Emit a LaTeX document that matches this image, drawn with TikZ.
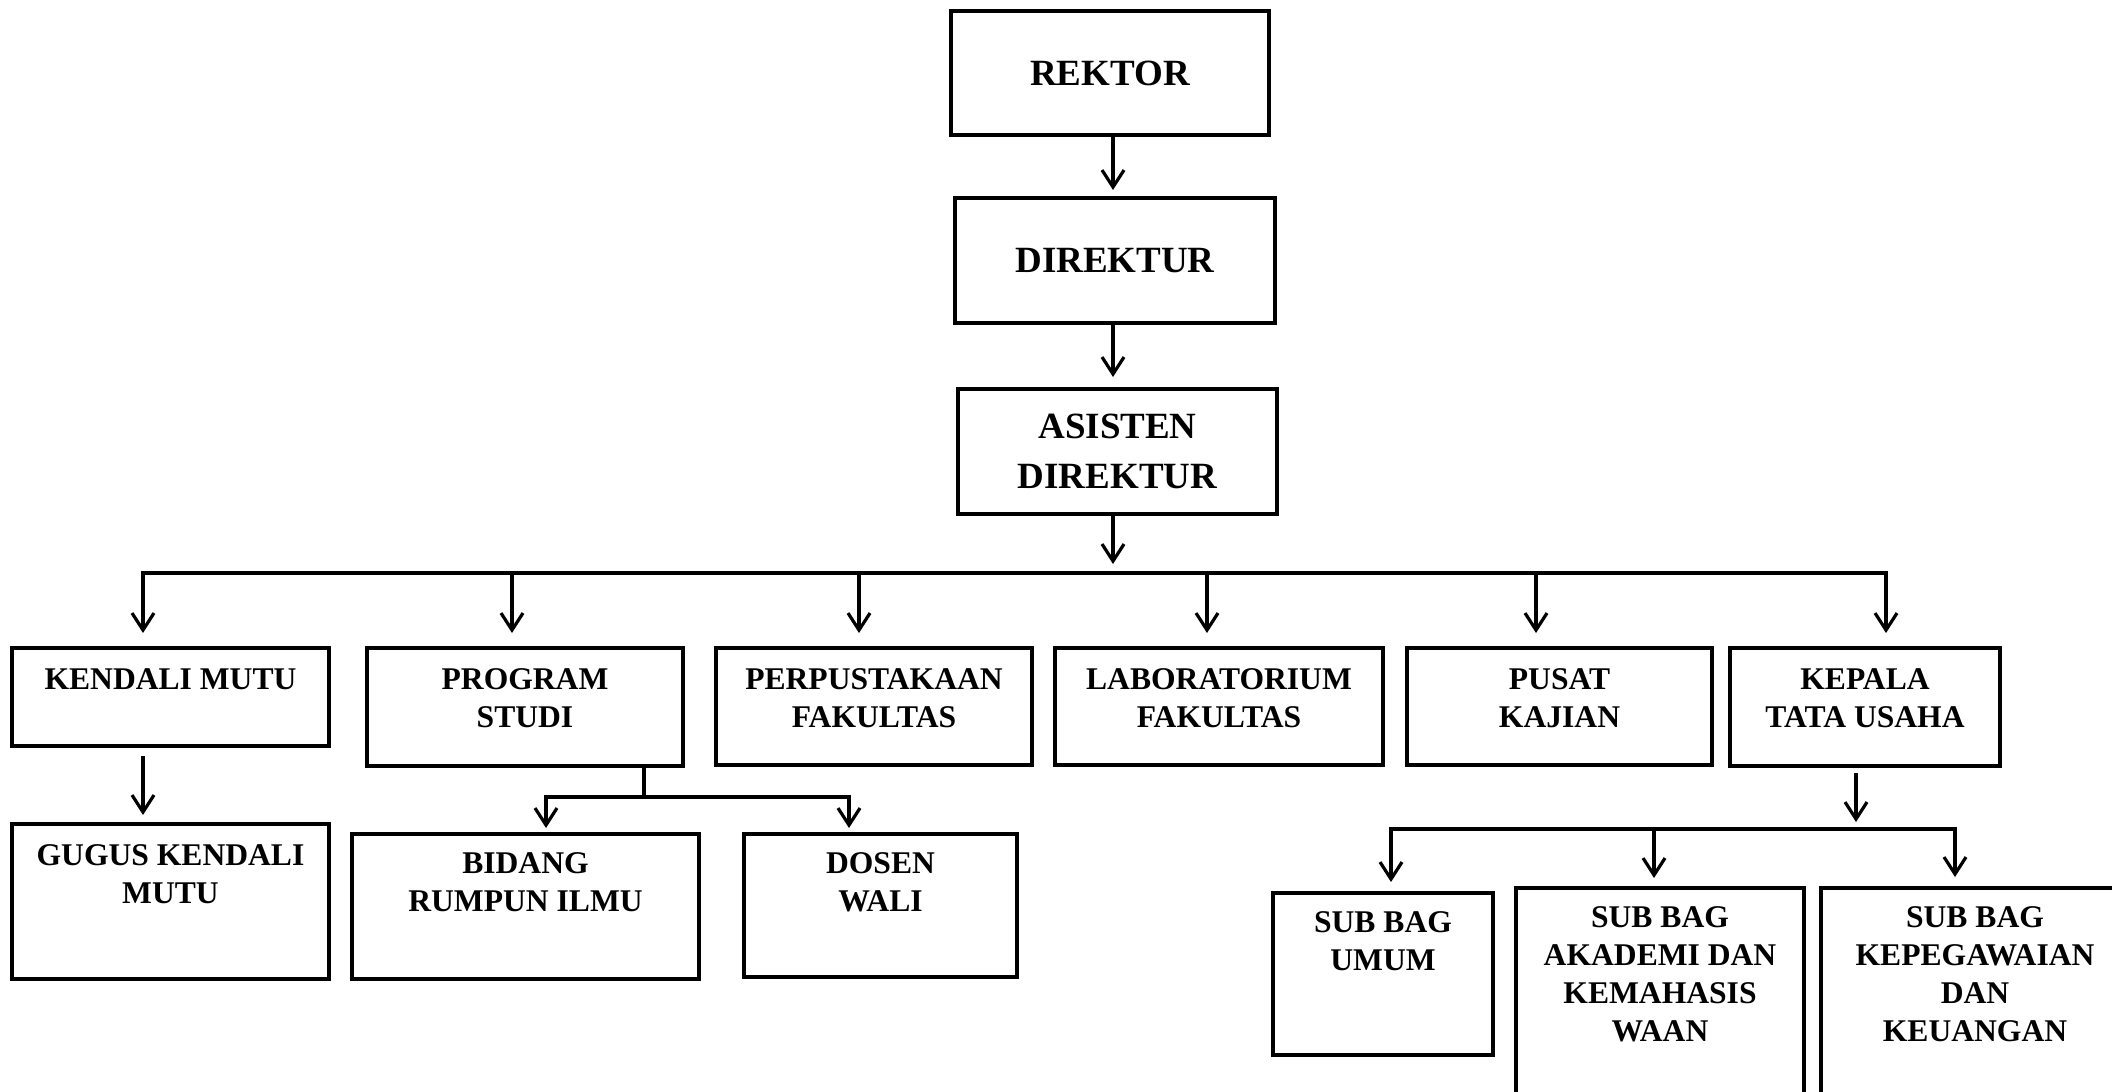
\documentclass[tikz,border=0pt]{standalone}
\usepackage{fontspec}
\setmainfont{Liberation Serif}
\usetikzlibrary{arrows.meta}
\begin{document}
\begin{tikzpicture}[x=0.5pt,y=-0.5pt,
  box/.style={draw, line width=2pt, rectangle, inner sep=0pt, anchor=north west},
  big/.style={font=\fontsize{18.5pt}{25pt}\selectfont\bfseries, align=center},
  lbl/.style={font=\fontsize{15.8pt}{19pt}\selectfont\bfseries, align=center, inner sep=0pt, anchor=base},
  arr/.style={line width=1.6pt, -{Straight Barb[length=8.5pt,width=11pt,line width=1.6pt]}},
  bus/.style={line width=1.9pt, line cap=rect}]
\useasboundingbox (0,0) rectangle (2112,1091);
\clip (0,0) rectangle (2112,1091);

% box helper: name, left, top, right, bottom (pixel grid, y downwards)
\newcommand\orgbox[5]{%
  \node[box, minimum width={(#4-#2)*0.5pt}, minimum height={(#5-#3)*0.5pt}] (#1) at (#2,#3) {};}

% top chain
\node[box, big, minimum width=159pt, minimum height=62pt] (rektor) at (949,9) {REKTOR};
\node[box, big, minimum width=160pt, minimum height=62.5pt] (direktur) at (953,196) {DIREKTUR};
\node[box, big, minimum width=159.5pt, minimum height=62.5pt] (asisten) at (956,387) {ASISTEN\\DIREKTUR};

% second row
\orgbox{km}{10}{646}{327}{744}
\orgbox{ps}{365}{646}{681}{764}
\orgbox{perp}{714}{646}{1030}{763}
\orgbox{lab}{1053}{646}{1381}{763}
\orgbox{pusat}{1405}{646}{1710}{763}
\orgbox{kepala}{1728}{646}{1998}{764}

% labels sit on the baseline of their last line
\node[lbl] (kmt) at ([yshift=-21.5pt]km.north) {KENDALI MUTU};
\node[lbl] (pst) at ([yshift=-40.5pt]ps.north) {PROGRAM\\STUDI};
\node[lbl] (perpt) at ([yshift=-40.5pt]perp.north) {PERPUSTAKAAN\\FAKULTAS};
\node[lbl] (labt) at ([yshift=-40.5pt]lab.north) {LABORATORIUM\\FAKULTAS};
\node[lbl] (pusatt) at ([yshift=-40.5pt]pusat.north) {PUSAT\\KAJIAN};
\node[lbl] (kepalat) at ([yshift=-40.5pt]kepala.north) {KEPALA\\TATA USAHA};

% third row
\orgbox{gugus}{10}{822}{327}{977}
\orgbox{bidang}{350}{832}{697}{977}
\orgbox{dosen}{742}{832}{1015}{975}

\node[lbl] (gugust) at ([yshift=-40.5pt]gugus.north) {GUGUS KENDALI\\MUTU};
\node[lbl] (bidangt) at ([yshift=-39.5pt]bidang.north) {BIDANG\\RUMPUN ILMU};
\node[lbl] (dosent) at ([yshift=-39.5pt]dosen.north) {DOSEN\\WALI};

% sub-sections under the head of administration
\orgbox{umum}{1271}{891}{1491}{1053}
\orgbox{akad}{1514}{886}{1802}{1110}
\orgbox{kepeg}{1819}{886}{2127}{1110}

\node[lbl] (umumt) at ([yshift=-39.5pt]umum.north) {SUB BAG\\UMUM};
\node[lbl] (akadt) at ([yshift=-77.5pt]akad.north) {SUB BAG\\AKADEMI DAN\\KEMAHASIS\\WAAN};
\node[lbl] (kepegt) at ([yshift=-77.5pt]kepeg.north) {SUB BAG\\KEPEGAWAIAN\\DAN\\KEUANGAN};

% top chain arrows
\coordinate (j0) at (1113,573);
\draw[arr, shorten >=3pt] (rektor.south -| j0) -- (direktur.north -| j0);
\draw[arr, shorten >=5pt] (direktur.south -| j0) -- (asisten.north -| j0);
\draw[arr, shorten >=4.5pt] (asisten.south -| j0) -- (j0);

% main distribution line
\coordinate (dkm) at (143,573);
\coordinate (dps) at (512,573);
\coordinate (dperp) at (859,573);
\coordinate (dlab) at (1207,573);
\coordinate (dpusat) at (1536,573);
\coordinate (dkepala) at (1886,573);
\draw[bus] (dkm) -- (dkepala);
\foreach \n in {km,ps,perp,lab,pusat,kepala}
  \draw[arr, shorten >=6.5pt] (d\n) -- (d\n |- \n.north);

% quality control
\draw[arr, shorten <=4pt, shorten >=3.5pt] (km.south -| dkm) -- (gugus.north -| dkm);

% study programme branch
\coordinate (p0) at (644,797);
\coordinate (p1) at (546,797);
\coordinate (p2) at (849,797);
\draw[bus] (ps.south -| p0) -- (p0);
\draw[bus] (p1) -- (p2);
\draw[arr, shorten >=2pt] (p1) -- (p1 |- bidang.north);
\draw[arr, shorten >=2pt] (p2) -- (p2 |- dosen.north);

% administration branch
\coordinate (k0) at (1856,829);
\coordinate (k1) at (1391,829);
\coordinate (k2) at (1654,829);
\coordinate (k3) at (1955,829);
\draw[arr, shorten <=2.5pt, shorten >=3.5pt] (kepala.south -| k0) -- (k0);
\draw[bus] (k1) -- (k3);
\draw[arr, shorten >=4.5pt] (k1) -- (k1 |- umum.north);
\draw[arr, shorten >=4pt] (k2) -- (k2 |- akad.north);
\draw[arr, shorten >=4.5pt] (k3) -- (k3 |- kepeg.north);
\end{tikzpicture}
\end{document}
